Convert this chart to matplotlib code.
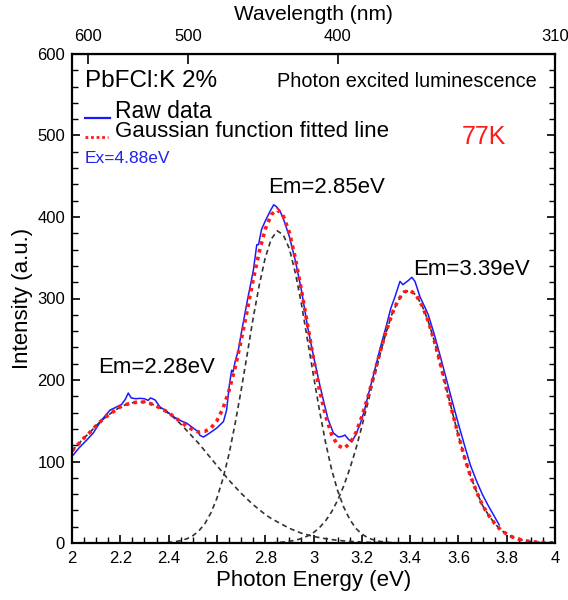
import matplotlib
matplotlib.use("Agg")
import matplotlib.pyplot as plt
from matplotlib.lines import Line2D
from matplotlib.ticker import MultipleLocator, NullLocator

plt.rcParams['font.family'] = ['Liberation Sans', 'DejaVu Sans']

# photon energy grid (eV) for the fitted curves
energy = [2.000, 2.025, 2.050, 2.075, 2.100, 2.125, 2.150, 2.175, 2.200, 2.225,
          2.250, 2.275, 2.300, 2.325, 2.350, 2.375, 2.400, 2.425, 2.450, 2.475,
          2.500, 2.525, 2.550, 2.575, 2.600, 2.625, 2.650, 2.675, 2.700, 2.725,
          2.750, 2.775, 2.800, 2.825, 2.850, 2.875, 2.900, 2.925, 2.950, 2.975,
          3.000, 3.025, 3.050, 3.075, 3.100, 3.125, 3.150, 3.175, 3.200, 3.225,
          3.250, 3.275, 3.300, 3.325, 3.350, 3.375, 3.400, 3.425, 3.450, 3.475,
          3.500, 3.525, 3.550, 3.575, 3.600, 3.625, 3.650, 3.675, 3.700, 3.725,
          3.750, 3.775, 3.800, 3.825, 3.850, 3.875, 3.900, 3.925, 3.950, 3.975,
          4.000]

# Gaussian components (Em=2.28, 2.85, 3.39 eV)
peak1 = [113, 121, 129, 136, 144, 151, 157, 162, 167, 170,
         172, 173, 173, 171, 168, 164, 159, 153, 146, 138,
         130, 122, 113, 104, 95, 86, 77, 69, 61, 54,
         47, 41, 35, 30, 26, 22, 18, 15, 12, 10,
         8, 6.6, 5.3, 4.2, 3.3, 2.6, 2.0, 1.6, 1.2, 0.9,
         0.7, 0.5, 0.4, 0.3, 0.2, 0.1, 0, 0, 0, 0,
         0, 0, 0, 0, 0, 0, 0, 0, 0, 0,
         0, 0, 0, 0, 0, 0, 0, 0, 0, 0,
         0]
peak2 = [0, 0, 0, 0, 0, 0, 0, 0, 0, 0,
         0, 0, 0, 0, 0, 0.2, 0.8, 1.5, 2.9, 5.1,
         8.9, 14.8, 23.8, 36.9, 55.0, 79.0, 109, 146, 187, 231,
         276, 316, 350, 373, 383, 378, 361, 331, 293, 249,
         205, 162, 123, 90, 64, 44, 29, 18, 11, 6.4,
         3.6, 2.0, 1.0, 0.5, 0.2, 0, 0, 0, 0, 0,
         0, 0, 0, 0, 0, 0, 0, 0, 0, 0,
         0, 0, 0, 0, 0, 0, 0, 0, 0, 0,
         0]
peak3 = [0, 0, 0, 0, 0, 0, 0, 0, 0, 0,
         0, 0, 0, 0, 0, 0, 0, 0, 0, 0,
         0, 0, 0, 0, 0, 0, 0, 0, 0, 0,
         0, 0, 0, 0, 0.7, 1.2, 2.1, 3.4, 5.5, 8.5,
         12.8, 19.0, 27.3, 38.3, 52.5, 70.0, 91.1, 115, 143, 172,
         202, 231, 258, 281, 297, 308, 310, 304, 291, 272,
         248, 220, 190, 160, 132, 105, 82, 63, 46, 34,
         24, 16, 11, 7.1, 4.5, 2.8, 1.7, 1.0, 0.6, 0.3,
         0.2]
fitted = [113, 121, 129, 136, 144, 151, 157, 162, 167, 170,
          172, 173, 173, 171, 168, 164, 160, 154, 149, 143,
          139, 136, 137, 141, 150, 165, 187, 215, 248, 285,
          323, 357, 385, 403, 409, 401, 381, 349, 310, 268,
          226, 187, 156, 133, 120, 116, 122, 135, 155, 179,
          206, 234, 259, 281, 298, 308, 310, 304, 291, 272,
          248, 220, 190, 160, 132, 105, 82, 63, 46, 34,
          24, 16, 11, 7.1, 4.5, 2.8, 1.7, 1.0, 0.6, 0.3,
          0.2]

# raw luminescence spectrum
raw_energy = [2.005, 2.030, 2.060, 2.088, 2.120, 2.157, 2.185, 2.205, 2.220, 2.233,
              2.245, 2.265, 2.280, 2.300, 2.315, 2.325, 2.344, 2.364, 2.390, 2.420,
              2.450, 2.475, 2.502, 2.520, 2.530, 2.544, 2.558, 2.580, 2.599, 2.627,
              2.640, 2.652, 2.661, 2.667, 2.675, 2.689, 2.700, 2.725, 2.751, 2.760,
              2.765, 2.772, 2.785, 2.800, 2.820, 2.835, 2.845, 2.860, 2.875, 2.900,
              2.925, 2.950, 2.975, 3.000, 3.025, 3.041, 3.060, 3.082, 3.103, 3.120,
              3.130, 3.145, 3.158, 3.175, 3.193, 3.210, 3.225, 3.250, 3.275, 3.300,
              3.320, 3.337, 3.358, 3.370, 3.379, 3.392, 3.407, 3.420, 3.441, 3.460,
              3.475, 3.500, 3.525, 3.550, 3.575, 3.600, 3.625, 3.650, 3.675, 3.700,
              3.725, 3.750, 3.769]
raw_intensity = [108, 117, 126, 135, 150, 163, 167, 170, 176, 184,
                 178, 177, 177.5, 177, 175, 178, 175.5, 167, 162, 155,
                 150, 147, 141, 137, 132, 130, 132.5, 137, 141, 149,
                 163, 195, 212, 210, 222, 237, 256, 296, 335, 355,
                 366, 366, 385, 395, 407, 415, 413, 408, 398, 376,
                 346, 310, 266, 229, 195, 175, 152, 135, 130, 131,
                 132.5, 127, 124, 133, 146, 162, 180, 208, 238, 265,
                 288, 302, 321, 317, 319, 322, 326, 321, 302, 290,
                 280, 256, 229, 201, 173, 146, 120, 95, 76, 59,
                 45, 32, 22]

wl_ticks = [600, 500, 400, 310]

fig = plt.figure(figsize=(5.68, 6.0), dpi=100)
ax = fig.add_axes([0.1268, 0.095, 0.8504, 0.815])

for comp in (peak1, peak2, peak3):
    ax.plot(energy, comp, color='#333333', lw=1.2, ls=(0, (3, 2.2)))
ax.plot(raw_energy, raw_intensity, color='#1a1aff', lw=1.1)
ax.plot(energy, fitted, color='#ff1a1a', lw=2.6, ls=(0, (1, 1.2)))

ax.set_xlim(2, 4)
ax.set_ylim(0, 600)
ax.xaxis.set_minor_locator(MultipleLocator(0.05))
ax.yaxis.set_major_locator(MultipleLocator(100))
ax.yaxis.set_minor_locator(MultipleLocator(20))
ax.set_xticks([2, 2.2, 2.4, 2.6, 2.8, 3, 3.2, 3.4, 3.6, 3.8, 4])
ax.set_xticklabels(['2', '2.2', '2.4', '2.6', '2.8', '3', '3.2', '3.4', '3.6', '3.8', '4'])
ax.tick_params(which='both', direction='in', top=False, right=True, labelsize=12)
ax.tick_params(axis='x', pad=5.5)
ax.tick_params(axis='y', pad=5)
ax.tick_params(which='major', length=6, width=1.2)
ax.tick_params(which='minor', length=4, width=1.0)
for s in ax.spines.values():
    s.set_linewidth(1.6)

ax.set_xlabel('Photon Energy (eV)', fontsize=16, labelpad=3)
ax.set_ylabel('Intensity (a.u.)', fontsize=16, labelpad=3)

top = ax.secondary_xaxis('top', functions=(lambda e: 1239.84 / e, lambda w: 1239.84 / w))
top.set_xticks(wl_ticks)
top.set_xticklabels([str(w) for w in wl_ticks])
top.tick_params(direction='in', length=7, width=1.2, labelsize=12, pad=7)
top.xaxis.set_minor_locator(NullLocator())
top.set_xlabel('Wavelength (nm)', fontsize=15, labelpad=7)

# legend-like text block
ax.text(0.027, 0.933, 'PbFCl:K 2%', transform=ax.transAxes, fontsize=17.5, va='baseline')
ax.text(0.962, 0.933, 'Photon excited luminescence', transform=ax.transAxes,
        fontsize=14.3, va='baseline', ha='right')
ax.add_line(Line2D([0.027, 0.079], [0.8685, 0.8685], transform=ax.transAxes,
                   color='#1a1aff', lw=1.6))
ax.text(0.088, 0.8685, 'Raw data', transform=ax.transAxes, fontsize=16.5, va='baseline')
ax.add_line(Line2D([0.027, 0.075], [0.8296, 0.8296], transform=ax.transAxes,
                   color='#ff1a1a', lw=2.0, ls=(0, (1, 1))))
ax.text(0.088, 0.8296, 'Gaussian function fitted line', transform=ax.transAxes,
        fontsize=16, va='baseline')
ax.text(0.027, 0.7777, 'Ex=4.88eV', transform=ax.transAxes, fontsize=12.5,
        va='baseline', color='#2222ee')
ax.text(0.8075, 0.816, '77K', transform=ax.transAxes, fontsize=18, va='baseline',
        color='#ff1a1a')

ax.text(2.813, 429, 'Em=2.85eV', fontsize=16, va='baseline')
ax.text(3.413, 329, 'Em=3.39eV', fontsize=16, va='baseline')
ax.text(2.109, 209, 'Em=2.28eV', fontsize=16, va='baseline')

fig.savefig('out.png', dpi=100)
